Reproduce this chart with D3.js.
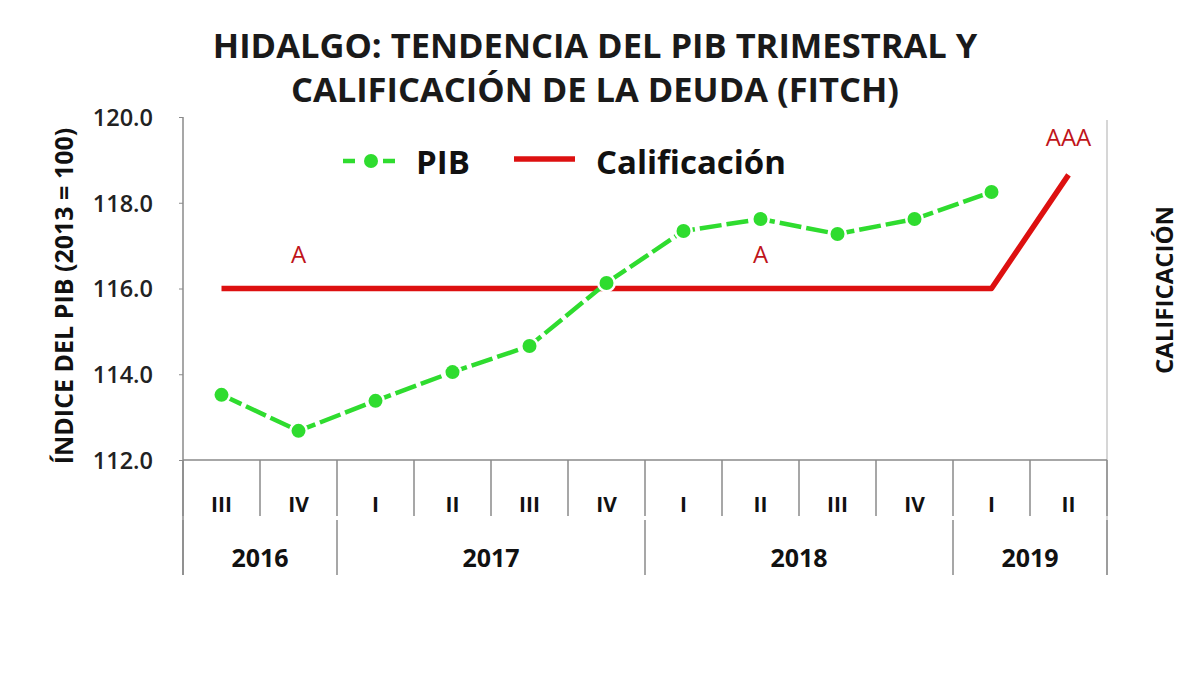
<!DOCTYPE html>
<html><head><meta charset="utf-8">
<script src="https://cdn.jsdelivr.net/npm/d3@7"></script>
<style>body{margin:0;background:#fff;} svg{display:block;}</style>
</head><body>
<svg id="c" width="1200" height="675"></svg>
<script>
const quarters = ["III","IV","I","II","III","IV","I","II","III","IV","I","II"];
const years = [{label:"2016", start:0, end:2},{label:"2017", start:2, end:6},{label:"2018", start:6, end:10},{label:"2019", start:10, end:12}];
const pib = [113.52,112.68,113.38,114.05,114.66,116.13,117.34,117.62,117.27,117.62,118.25,null];
const calificacion = [116,116,116,116,116,116,116,116,116,116,116,118.65];
const ratingLabels = [{i:1,label:"A",v:116},{i:7,label:"A",v:116},{i:11,label:"AAA",v:118.65}];
const yTicks = [112,114,116,118,120];
const titleLines = ["HIDALGO: TENDENCIA DEL PIB TRIMESTRAL Y","CALIFICACIÓN DE LA DEUDA (FITCH)"];

const svg = d3.select("#c");
const F = "'Open Sans', sans-serif";
const green = "#2fdc2f", red = "#dd1010", axisC = "#8a8a8a";

const x = d3.scaleBand().domain(d3.range(quarters.length)).range([183,1107]).paddingInner(0).paddingOuter(0);
const y = d3.scaleLinear().domain([112,120]).range([460,117]);
const cx = i => x(i) + x.bandwidth()/2;

// title
svg.selectAll("text.title").data(titleLines).join("text")
  .attr("x",595).attr("y",(d,i)=>58+i*44).attr("text-anchor","middle")
  .attr("font-family",F).attr("font-weight",700).attr("font-size",34.5).attr("fill","#1a1a1a")
  .text(d=>d);

// y axis
const yAxis = d3.axisLeft(y).tickValues(yTicks).tickFormat(d3.format(".1f")).tickSize(4).tickPadding(26);
const ga = svg.append("g").attr("transform","translate(183,0)").call(yAxis);
ga.select(".domain").remove();
ga.selectAll("line").attr("stroke",axisC);
ga.selectAll("text").attr("font-family",F).attr("font-size",23.5).attr("font-weight",600).attr("fill","#222").attr("dy","0.36em");
svg.append("line").attr("x1",183).attr("x2",183).attr("y1",117).attr("y2",575).attr("stroke",axisC).attr("stroke-width",1.5);
svg.append("line").attr("x1",1107).attr("x2",1107).attr("y1",120).attr("y2",575).attr("stroke","#c8c8c8").attr("stroke-width",1.5);

// x axis
svg.append("line").attr("x1",183).attr("x2",1107).attr("y1",460).attr("y2",460).attr("stroke",axisC).attr("stroke-width",1.5);
const bounds = d3.range(quarters.length+1).map(i => i<quarters.length ? x(i) : x.range()[1]);
svg.selectAll("line.qsep").data(bounds).join("line")
  .attr("x1",d=>d).attr("x2",d=>d).attr("y1",460).attr("y2",516)
  .attr("stroke",axisC).attr("stroke-width",1.5);
const ybounds = [...new Set(years.flatMap(d=>[d.start,d.end]))].map(i => i<quarters.length ? x(i) : x.range()[1]);
svg.selectAll("line.ysep").data(ybounds).join("line")
  .attr("x1",d=>d).attr("x2",d=>d).attr("y1",520).attr("y2",575)
  .attr("stroke",axisC).attr("stroke-width",1.5);
svg.selectAll("text.q").data(quarters).join("text")
  .attr("x",(d,i)=>cx(i)).attr("y",512).attr("text-anchor","middle")
  .attr("font-family",F).attr("font-weight",700).attr("font-size",21).attr("fill","#111").text(d=>d);
svg.selectAll("text.yr").data(years).join("text")
  .attr("x",d=>(x(d.start)+(d.end<quarters.length?x(d.end):x.range()[1]))/2).attr("y",567).attr("text-anchor","middle")
  .attr("font-family",F).attr("font-weight",700).attr("font-size",25).attr("fill","#111").text(d=>d.label);

// axis titles
svg.append("text").attr("transform","translate(73,296) rotate(-90)").attr("text-anchor","middle")
  .attr("font-family",F).attr("font-weight",700).attr("font-size",25).attr("fill","#111").text("ÍNDICE DEL PIB (2013 = 100)");
svg.append("text").attr("transform","translate(1173,290) rotate(-90)").attr("text-anchor","middle")
  .attr("font-family",F).attr("font-weight",700).attr("font-size",24).attr("fill","#111").text("CALIFICACIÓN");

// calificacion line
svg.append("path").datum(calificacion)
  .attr("d",d3.line().x((d,i)=>cx(i)).y(d=>y(d)))
  .attr("fill","none").attr("stroke",red).attr("stroke-width",5.5).attr("stroke-linejoin","round");

// pib line
const pibPts = pib.map((v,i)=>({i,v})).filter(d=>d.v!=null);
svg.append("path").datum(pibPts)
  .attr("d",d3.line().x(d=>cx(d.i)).y(d=>y(d.v)))
  .attr("fill","none").attr("stroke",green).attr("stroke-width",4.5).attr("stroke-dasharray","22,5");
svg.selectAll("circle.pib").data(pibPts).join("circle")
  .attr("cx",d=>cx(d.i)).attr("cy",d=>y(d.v)).attr("r",7)
  .attr("fill",green).attr("stroke","#fff").attr("stroke-width",5).attr("paint-order","stroke");

// rating labels
svg.selectAll("text.rt").data(ratingLabels).join("text")
  .attr("x",d=>cx(d.i)).attr("y",d=>y(d.v)-(d.label==="AAA"?29:26)).attr("text-anchor","middle")
  .attr("font-family",F).attr("font-size",24).attr("fill","#c0141a").text(d=>d.label);

// legend
const lg = svg.append("g");
lg.append("line").attr("x1",343).attr("x2",400).attr("y1",161).attr("y2",161).attr("stroke",green).attr("stroke-width",4.5).attr("stroke-dasharray","12,8");
lg.append("circle").attr("cx",371).attr("cy",161).attr("r",7).attr("fill",green).attr("stroke","#fff").attr("stroke-width",5).attr("paint-order","stroke");
lg.append("text").attr("x",416).attr("y",174).attr("font-family",F).attr("font-weight",700).attr("font-size",33).attr("fill","#111").text("PIB");
lg.append("line").attr("x1",514).attr("x2",575).attr("y1",159).attr("y2",159).attr("stroke",red).attr("stroke-width",5.5);
lg.append("text").attr("x",596).attr("y",174).attr("font-family",F).attr("font-weight",700).attr("font-size",33).attr("fill","#111").text("Calificación");
</script>
</body></html>
